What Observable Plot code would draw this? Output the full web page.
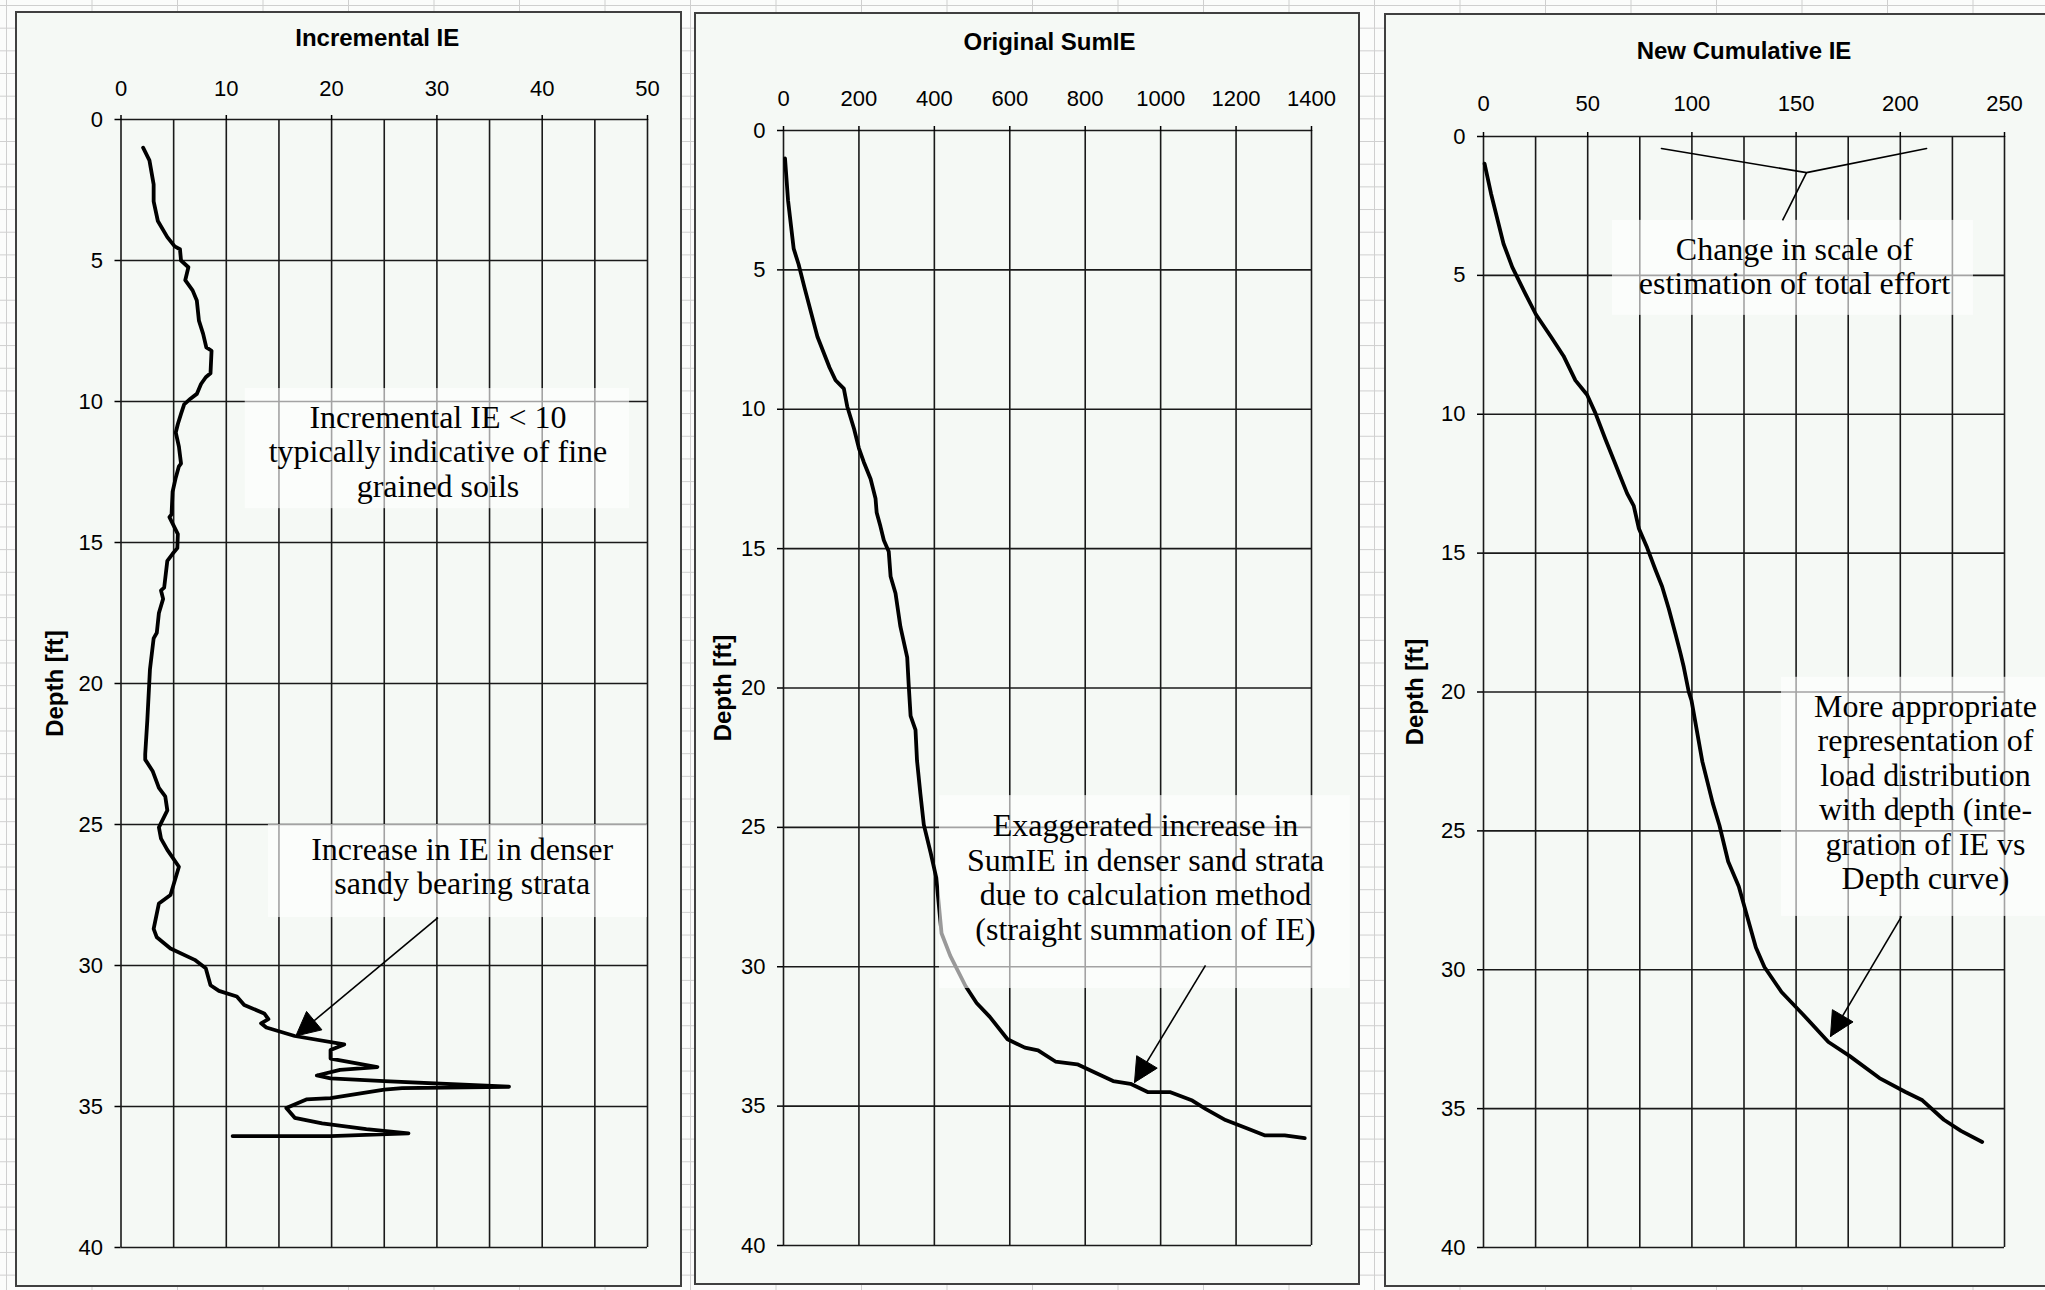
<!DOCTYPE html>
<html><head><meta charset="utf-8">
<script src="https://cdn.jsdelivr.net/npm/d3@7"></script>
<script src="https://cdn.jsdelivr.net/npm/@observablehq/plot@0.6"></script>
<style>
html,body{margin:0;padding:0;background:#fbfcfb;}
#sheet{position:relative;width:2045px;height:1290px;overflow:hidden;background-color:#fbfcfb;
background-image:linear-gradient(to right,#cfcfcf 1px,transparent 1px),linear-gradient(to bottom,#cfcfcf 1px,transparent 1px);
background-size:85.5px 22.68px;background-position:6px 5px;}
.panel{position:absolute;background:#f5f9f5;}
.panel svg{position:absolute;left:0;top:0;}
.border{position:absolute;left:0;top:0;right:0;bottom:0;border:2px solid #404040;box-sizing:border-box;pointer-events:none;}
</style></head><body><div id="sheet"></div>
<script>
// ---------------- data ----------------
const depthTicks = [0, 5, 10, 15, 20, 25, 30, 35, 40];

// Panel 1: Incremental IE
const incTitle = "Incremental IE";
const incGrid = [0, 5, 10, 15, 20, 25, 30, 35, 40, 45, 50];
const incLabels = [0, 10, 20, 30, 40, 50];
const incDepth = [1.0, 1.45, 2.3, 2.9, 3.6, 4.17, 4.5, 4.6, 5.0, 5.24, 5.7, 6.06, 6.42, 7.13, 7.6, 8.08, 8.2, 9.0, 9.14, 9.38, 9.73, 9.9, 10.1, 10.44, 10.8, 11.1, 11.6, 12.2, 12.3, 12.7, 13.2, 14.0, 14.1, 14.7, 15.2, 15.4, 15.65, 16.6, 16.7, 17.0, 17.5, 18.2, 18.4, 19.5, 21.3, 22.5, 22.7, 23.1, 23.7, 24.0, 24.5, 25.1, 25.5, 25.9, 26.5, 27.5, 27.8, 28.7, 29.0, 29.4, 29.8, 30.1, 30.7, 30.9, 31.1, 31.4, 31.7, 31.9, 32.05, 32.2, 32.5, 32.8, 33.0, 33.3, 33.6, 33.7, 33.9, 34.0, 34.1, 34.3, 34.35, 34.4, 34.7, 34.75, 35.05, 35.4, 35.6, 35.8, 35.95, 36.05, 36.05];
const incIE = [2.1, 2.7, 3.1, 3.1, 3.5, 4.4, 5.1, 5.6, 5.7, 6.4, 6.1, 6.8, 7.2, 7.4, 7.8, 8.1, 8.6, 8.5, 8.05, 7.6, 7.2, 6.6, 6.0, 5.7, 5.4, 5.2, 5.5, 5.7, 5.5, 5.2, 4.9, 4.8, 4.6, 5.4, 5.35, 4.9, 4.4, 4.1, 3.8, 4.0, 3.6, 3.4, 3.1, 2.75, 2.5, 2.3, 2.3, 3.0, 3.6, 4.2, 4.4, 3.6, 3.8, 4.4, 5.5, 4.7, 3.6, 3.1, 3.4, 4.7, 7.0, 8.05, 8.5, 9.3, 11.0, 11.7, 13.6, 14.0, 13.3, 13.8, 16.5, 21.2, 19.9, 19.9, 24.35, 20.8, 18.6, 19.9, 25.0, 36.85, 26.7, 25.0, 19.9, 17.6, 15.7, 16.5, 19.1, 23.3, 27.3, 19.9, 10.6];
const incBoxes = [
  {x1: 11.8, x2: 48.3, y1: 9.54, y2: 13.8},
  {x1: 14.0, x2: 50, y1: 25.0, y2: 28.3}
];
const incNotes = [
  {x: 30.1, y: 11.77, t: "Incremental IE < 10\ntypically indicative of fine\ngrained soils"},
  {x: 32.4, y: 26.47, t: "Increase in IE in denser\nsandy bearing strata"}
];
const incArrows = [{x1: 30.1, y1: 28.3, x2: 16.6, y2: 32.5}];

// Panel 2: Original SumIE
const sumTitle = "Original SumIE";
const sumGrid = [0, 200, 400, 600, 800, 1000, 1200, 1400];
const sumDepth = [1.0, 2.5, 4.24, 4.8, 5.6, 7.4, 8.5, 8.96, 9.26, 9.9, 10.7, 11.4, 11.9, 12.5, 13.2, 13.7, 14.2, 14.7, 15.1, 16.0, 16.6, 17.8, 18.9, 19.9, 21.0, 21.5, 22.6, 23.8, 24.9, 25.9, 26.8, 28.8, 29.6, 30.7, 31.3, 31.8, 32.6, 32.9, 33.0, 33.4, 33.5, 33.8, 34.1, 34.2, 34.5, 34.5, 34.8, 35.1, 35.5, 35.8, 36.05, 36.05, 36.15];
const sumIE = [4, 12, 27, 40, 55, 90, 122, 138, 160, 169, 187, 200, 213, 231, 244, 247, 257, 266, 279, 284, 297, 310, 328, 332, 337, 350, 354, 363, 372, 390, 405, 419, 442, 483, 512, 547, 594, 640, 675, 721, 779, 827, 874, 920, 967, 1026, 1084, 1119, 1172, 1230, 1277, 1329, 1382];
const sumBoxes = [{x1: 413.6, x2: 1503, y1: 23.86, y2: 30.78}];
const sumNotes = [
  {x: 960, y: 26.78, t: "Exaggerated increase in\nSumIE in denser sand strata\ndue to calculation method\n(straight summation of IE)"}
];
const sumArrows = [{x1: 1119, y1: 29.95, x2: 930.7, y2: 34.15}];

// Panel 3: New Cumulative IE
const cumTitle = "New Cumulative IE";
const cumGrid = [0, 25, 50, 75, 100, 125, 150, 175, 200, 225, 250];
const cumLabels = [0, 50, 100, 150, 200, 250];
const cumDepth = [0.98, 2.05, 3.86, 4.7, 5.65, 6.4, 7.2, 7.9, 8.78, 9.3, 9.96, 10.9, 11.65, 12.25, 12.85, 13.3, 14.1, 14.8, 15.6, 16.2, 17.0, 17.9, 18.6, 19.1, 20.0, 20.3, 22.5, 24.0, 24.8, 26.1, 27.0, 28.1, 29.2, 29.9, 30.8, 31.6, 32.6, 33.1, 33.9, 34.4, 34.7, 35.4, 35.8, 36.2];
const cumIE = [0.5, 3.6, 9.6, 13.8, 20, 25.1, 32.3, 38.4, 44.1, 49.7, 53.7, 58.5, 62.5, 65.7, 68.9, 72.1, 74.5, 78.5, 82.5, 85.7, 88.9, 92.1, 94.5, 96.1, 98.5, 99.8, 105, 110, 113.2, 117.4, 122.5, 126.6, 130.7, 134.8, 143, 153.2, 165.5, 175.6, 190, 202.5, 210.6, 220.9, 229.1, 239.3];
const cumBoxes = [
  {x1: 61.9, x2: 235.1, y1: 3.02, y2: 6.44},
  {x1: 143, x2: 290, y1: 19.47, y2: 28.08}
];
const cumNotes = [
  {x: 149.2, y: 4.66, t: "Change in scale of\nestimation of total effort"},
  {x: 212.1, y: 23.6, t: "More appropriate\nrepresentation of\nload distribution\nwith depth (inte-\ngration of IE vs\nDepth curve)"}
];
const cumCallout = [{x: 85.4, y: 0.43}, {x: 155, y: 1.30}, {x: 212.6, y: 0.43}];
const cumCalloutStem = [{x1: 155, y1: 1.30, x2: 143.5, y2: 3.02}];
const cumArrows = [{x1: 200.6, y1: 28.08, x2: 166.5, y2: 32.4}];

// ---------------- drawing ----------------
const SANS = "Liberation Sans, Arial, Helvetica, sans-serif";
const SERIF = "Liberation Serif, Times New Roman, serif";
const sheet = document.getElementById("sheet");

function headPolys(arrows, kx, ky, L = 24, W = 24) {
  const out = [];
  arrows.forEach((a, i) => {
    const sx = a.x1 * kx, sy = a.y1 * ky, tx = a.x2 * kx, ty = a.y2 * ky;
    const len = Math.hypot(tx - sx, ty - sy);
    const ux = (tx - sx) / len, uy = (ty - sy) / len;
    const bx = tx - ux * L, by = ty - uy * L;
    const nx = -uy, ny = ux;
    const pts = [[tx, ty], [bx + nx * W / 2, by + ny * W / 2], [bx - nx * W / 2, by - ny * W / 2], [tx, ty]];
    pts.forEach(([px, py]) => out.push({id: i, x: px / kx, y: py / ky}));
  });
  return out;
}

function panel(cfg) {
  const div = document.createElement("div");
  div.className = "panel";
  Object.assign(div.style, {left: cfg.left + "px", top: cfg.top + "px", width: cfg.width + "px", height: cfg.height + "px"});
  const rows = cfg.depth.map((d, i) => ({d, v: cfg.values[i]}));
  const kx = (cfg.width - cfg.ml - cfg.mr) / (cfg.xDomain[1] - cfg.xDomain[0]);
  const ky = (cfg.height - cfg.mt - cfg.mb) / 40;
  const marks = [
    Plot.ruleX(cfg.grid, {stroke: "#1a1a1a", strokeWidth: 1.6}),
    Plot.ruleY(depthTicks, {stroke: "#1a1a1a", strokeWidth: 1.6}),
    Plot.line(rows, {x: "v", y: "d", stroke: "black", strokeWidth: 3.8, strokeLinejoin: "round", strokeLinecap: "round"}),
    Plot.rect(cfg.boxes, {x1: "x1", x2: "x2", y1: "y1", y2: "y2", fill: "white", fillOpacity: 0.6}),
    Plot.text(cfg.notes, {x: "x", y: "y", text: "t", fontFamily: SERIF, fontSize: 32, lineHeight: 1.08, fill: "black"}),
    Plot.link(cfg.arrows, {x1: "x1", y1: "y1", x2: "x2", y2: "y2", stroke: "black", strokeWidth: 1.6}),
    Plot.line(headPolys(cfg.arrows, kx, ky), {x: "x", y: "y", z: "id", fill: "black", stroke: "black", strokeWidth: 1}),
    ...(cfg.extra || []),
    Plot.axisX(cfg.labels, {anchor: "top", tickSize: 5, tickPadding: cfg.padTop, tickFormat: "d", fontSize: 22, fontFamily: SANS, label: null, stroke: "black", strokeWidth: 1.5}),
    Plot.axisY(depthTicks, {anchor: "left", tickSize: 6, tickPadding: 12, tickFormat: "d", fontSize: 22, fontFamily: SANS, label: null, strokeWidth: 1.5}),
    Plot.text([cfg.title], {text: d => d, frameAnchor: "top", textAnchor: "middle", lineAnchor: "middle", dx: cfg.titleDx, dy: cfg.titleDy, fontFamily: SANS, fontWeight: "bold", fontSize: 24, fill: "black"}),
    Plot.text(["Depth [ft]"], {text: d => d, frameAnchor: "left", textAnchor: "middle", lineAnchor: "middle", rotate: -90, dx: cfg.labelDx, fontFamily: SANS, fontWeight: "bold", fontSize: 24, fill: "black"})
  ];
  const svg = Plot.plot({
    width: cfg.width, height: cfg.height,
    marginLeft: cfg.ml, marginRight: cfg.mr, marginTop: cfg.mt, marginBottom: cfg.mb,
    x: {domain: cfg.xDomain},
    y: {domain: [0, 40], reverse: true},
    style: {background: "transparent", fontFamily: SANS, fontSize: "22px", color: "black", overflow: "visible"},
    marks
  });
  div.appendChild(svg);
  const b = document.createElement("div");
  b.className = "border";
  div.appendChild(b);
  sheet.appendChild(div);
}

panel({
  left: 15, top: 11, width: 667, height: 1276, ml: 105.5, mr: 35, mt: 108, mb: 40,
  xDomain: [0, 50], grid: incGrid, labels: incLabels, padTop: 19,
  depth: incDepth, values: incIE, boxes: incBoxes, notes: incNotes, arrows: incArrows,
  title: incTitle, titleDx: -7, titleDy: -81, labelDx: -66
});
panel({
  left: 694, top: 12, width: 666, height: 1273, ml: 89, mr: 49, mt: 118, mb: 40,
  xDomain: [0, 1400], grid: sumGrid, labels: sumGrid, padTop: 20,
  depth: sumDepth, values: sumIE, boxes: sumBoxes, notes: sumNotes, arrows: sumArrows,
  title: sumTitle, titleDx: 2, titleDy: -88, labelDx: -60
});
panel({
  left: 1384, top: 13, width: 676, height: 1274, ml: 99, mr: 56, mt: 123, mb: 40,
  xDomain: [0, 250], grid: cumGrid, labels: cumLabels, padTop: 21,
  depth: cumDepth, values: cumIE, boxes: cumBoxes, notes: cumNotes, arrows: cumArrows,
  title: cumTitle, titleDx: 0, titleDy: -85, labelDx: -68,
  extra: [
    Plot.line(cumCallout, {x: "x", y: "y", stroke: "black", strokeWidth: 1.6}),
    Plot.link(cumCalloutStem, {x1: "x1", y1: "y1", x2: "x2", y2: "y2", stroke: "black", strokeWidth: 1.6})
  ]
});
</script></body></html>
